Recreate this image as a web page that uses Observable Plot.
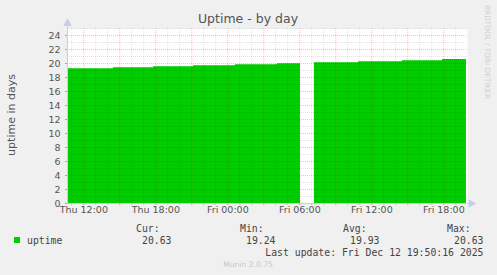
<!DOCTYPE html>
<html>
<head>
<meta charset="utf-8">
<script src="https://cdn.jsdelivr.net/npm/d3@7"></script>
<script src="https://cdn.jsdelivr.net/npm/@observablehq/plot@0.6"></script>
<style>
  html, body { margin: 0; padding: 0; background: #f0f0f0; }
  svg { display: block; }
</style>
</head>
<body>
<div id="chart"></div>
<script>
// ---- data ----
const windowStart = "2025-12-11T10:38:20Z";
const windowEnd = "2025-12-12T19:58:20Z";
const sampleTimes = [
  "2025-12-11T10:38:20Z", "2025-12-11T14:28:00Z", "2025-12-11T17:49:00Z",
  "2025-12-11T21:08:00Z", "2025-12-12T00:38:00Z", "2025-12-12T04:08:00Z",
  "2025-12-12T06:03:00Z", "2025-12-12T06:30:00Z", "2025-12-12T07:13:00Z",
  "2025-12-12T10:53:00Z", "2025-12-12T14:33:00Z", "2025-12-12T17:53:00Z",
  "2025-12-12T19:53:00Z"
];
const uptimeDays = [19.24, 19.40, 19.54, 19.68, 19.82, 19.97, 19.97, null, 20.10, 20.25, 20.40, 20.56, 20.63];
const xTickTimes = ["2025-12-11T12:00:00Z", "2025-12-11T18:00:00Z", "2025-12-12T00:00:00Z", "2025-12-12T06:00:00Z", "2025-12-12T12:00:00Z", "2025-12-12T18:00:00Z"];
const xTickLabels = ["Thu 12:00", "Thu 18:00", "Fri 00:00", "Fri 06:00", "Fri 12:00", "Fri 18:00"];
const yTicks = [0, 2, 4, 6, 8, 10, 12, 14, 16, 18, 20, 22, 24];
const yMinor = [1, 3, 5, 7, 9, 11, 13, 15, 17, 19, 21, 23, 25];
const legendHeaders = ["Cur:", "Min:", "Avg:", "Max:"];
const legendValues = ["20.63", "19.24", "19.93", "20.63"];
const seriesName = "uptime";
const lastUpdate = "Last update: Fri Dec 12 19:50:16 2025";
const titleText = "Uptime - by day";
const yLabel = "uptime in days";

// ---- derived ----
const t0 = new Date(windowStart), t1 = new Date(windowEnd);
const series = sampleTimes.map((t, i) => ({t: new Date(t), v: uptimeDays[i]}));
const HOUR = 3600e3;
const firstHour = new Date(Math.ceil(+t0 / HOUR) * HOUR);
const hourLines = [];
for (let t = +firstHour; t <= +t1; t += HOUR) hourLines.push(new Date(t));
const majorX = hourLines.filter(d => d.getUTCHours() % 3 === 0);
const minorX = hourLines.filter(d => d.getUTCHours() % 3 !== 0);
const xTicks = xTickTimes.map((t, i) => ({t: new Date(t), label: xTickLabels[i]}));

const axisColor = "#c4ccf2";
const green = "#00cc00";

const svg = Plot.plot({
  width: 497,
  height: 275,
  marginLeft: 67,
  marginRight: 30,
  marginTop: 28,
  marginBottom: 72,
  style: {background: "#f0f0f0", fontFamily: "DejaVu Sans, sans-serif"},
  x: {type: "utc", domain: [t0, t1], axis: null},
  y: {domain: [0, 25], axis: null},
  marks: [
    Plot.frame({fill: "white", stroke: null}),
    Plot.area(series, {x1: "t", y1: 0, y2: "v", curve: "step-after", fill: green}),
    // minor grid
    Plot.ruleX(minorX, {stroke: "#000", strokeOpacity: 0.11, strokeDasharray: "1,1"}),
    Plot.ruleY(yMinor, {stroke: "#000", strokeOpacity: 0.11, strokeDasharray: "1,1"}),
    // major grid
    Plot.ruleX(majorX, {stroke: "#d00000", strokeOpacity: 0.26, strokeDasharray: "1,1"}),
    Plot.ruleY(yTicks.filter(d => d > 0), {stroke: "#d00000", strokeOpacity: 0.26, strokeDasharray: "1,1"}),
    // small tick marks
    Plot.axisX(majorX, {ticks: majorX, tickSize: 2, text: null, stroke: "#e08888", strokeOpacity: 1}),
    Plot.axisX(minorX, {ticks: minorX, tickSize: 2, text: null, stroke: "#bbbbbb", strokeOpacity: 1}),
    Plot.axisY(yTicks, {ticks: yTicks, tickSize: 2, text: null, stroke: "#e08888", strokeOpacity: 1}),
    // axis lines with arrows
    Plot.ruleY([0], {x1: t0, x2: new Date(+t1 + 0.3 * HOUR), stroke: axisColor}),
    Plot.ruleX([t0], {y1: 0, y2: 25.7, stroke: axisColor}),
    Plot.dot([{x: new Date(+t1 + 0.3 * HOUR), y: 0}], {x: "x", y: "y", symbol: "triangle", r: 3.2, fill: axisColor, stroke: null, rotate: 90}),
    Plot.dot([{x: t0, y: 25.7}], {x: "x", y: "y", symbol: "triangle", r: 3.2, fill: axisColor, stroke: null}),
    // tick labels
    Plot.text(xTicks, {x: "t", text: "label", frameAnchor: "bottom", dy: 9, fill: "#555", fontSize: 9.5}),
    Plot.text(yTicks, {y: d => d, text: d => String(d), frameAnchor: "left", dx: -7, textAnchor: "end", fill: "#555", fontSize: 9.5})
  ]
});

const s = d3.select(svg);
function addText(x, y, str, o = {}) {
  const t = s.append("text")
    .attr("x", x).attr("y", y)
    .attr("fill", o.fill || "#444")
    .attr("font-size", o.size || 10)
    .attr("font-family", o.family || "DejaVu Sans, sans-serif")
    .attr("text-anchor", o.anchor || "start")
    .text(str);
  if (o.transform) t.attr("transform", o.transform);
  return t;
}
// title
addText(248, 23, titleText, {size: 12.5, anchor: "middle", fill: "#555"});
// y label
addText(0, 0, yLabel, {size: 11, anchor: "middle", fill: "#555", transform: "translate(15,115) rotate(-90)"});
// rrdtool credit
addText(0, 0, "RRDTOOL / TOBI OETIKER", {size: 7.3, fill: "#d0d0d0", transform: "translate(485,5) rotate(90)"});
// legend
const mono = "DejaVu Sans Mono, monospace";
s.append("rect").attr("x", 14).attr("y", 237).attr("width", 6).attr("height", 6).attr("fill", green);
addText(27, 243.5, seriesName, {family: mono, size: 9.8});
const headerX = [136, 240, 343, 447];
const valueEnd = [171.5, 275.5, 379.5, 483.5];
legendHeaders.forEach((h, i) => addText(headerX[i], 231.5, h, {family: mono, size: 9.8}));
legendValues.forEach((v, i) => addText(valueEnd[i], 243.5, v, {family: mono, size: 9.8, anchor: "end"}));
addText(483.5, 255.5, lastUpdate, {family: mono, size: 9.8, anchor: "end"});
addText(248, 267, "Munin 2.0.75", {size: 7.6, anchor: "middle", fill: "#c8c8c8"});

document.getElementById("chart").appendChild(svg);
</script>
</body>
</html>
